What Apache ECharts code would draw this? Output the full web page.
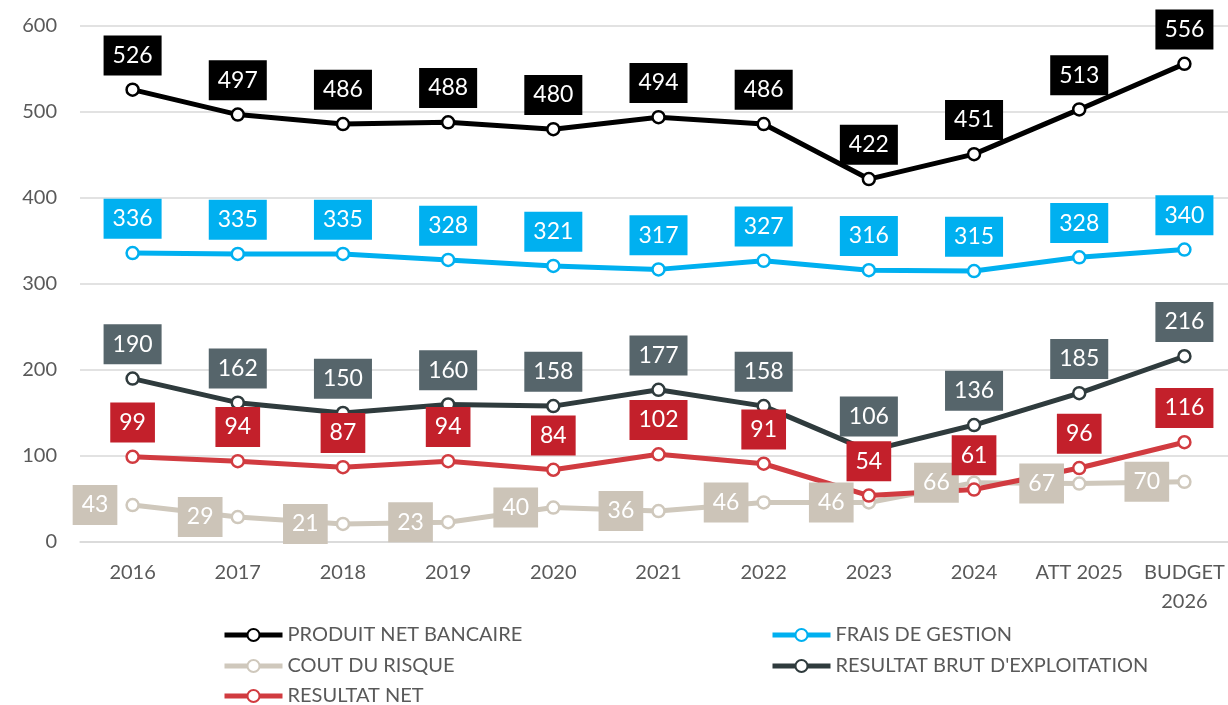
<!DOCTYPE html>
<html>
<head>
<meta charset="utf-8">
<script src="https://cdn.jsdelivr.net/npm/echarts@6/dist/echarts.min.js"></script>
<style>
  html, body { margin: 0; padding: 0; background: #fff; overflow: hidden; }
  /* a bit wider than the window: the last category runs past the right edge */
  #chart { width: 1240px; height: 705px; }
</style>
</head>
<body>
<div id="chart"></div>
<script>
// categories
const years = ['2016', '2017', '2018', '2019', '2020', '2021', '2022', '2023', '2024', 'ATT 2025', 'BUDGET\n2026']

// plotted values (read from point positions)
const pnb = [526, 497, 486, 488, 480, 494, 486, 422, 451, 503, 556]
const fraisGestion = [336, 335, 335, 328, 321, 317, 327, 316, 315, 331, 340]
const coutRisque = [43, 29, 21, 23, 40, 36, 46, 46, 69, 68, 70]
const rbe = [190, 162, 150, 160, 158, 177, 158, 106, 136, 173, 216]
const resultatNet = [99, 94, 87, 94, 84, 102, 91, 54, 61, 86, 116]

// values shown in the label boxes
const pnbLabels = [526, 497, 486, 488, 480, 494, 486, 422, 451, 513, 556]
const fraisGestionLabels = [336, 335, 335, 328, 321, 317, 327, 316, 315, 328, 340]
const coutRisqueLabels = [43, 29, 21, 23, 40, 36, 46, 46, 66, 67, 70]
const rbeLabels = [190, 162, 150, 160, 158, 177, 158, 106, 136, 185, 216]
const resultatNetLabels = [99, 94, 87, 94, 84, 102, 91, 54, 61, 96, 116]

const FONT = 'Lato, "Open Sans", sans-serif'

// build one line series
function makeSeries(name, data, labels, lineColor, boxColor, pos) {
  return {
    name: name,
    type: 'line',
    data: data,
    symbol: 'circle',
    symbolSize: 12,
    lineStyle: { width: 5, color: lineColor },
    itemStyle: { color: '#fff', borderColor: lineColor, borderWidth: 2.5 },
    label: {
      show: true,
      position: pos,
      distance: pos === 'left' ? 8 : 7,
      formatter: p => String(labels[p.dataIndex]),
      color: '#fff',
      fontFamily: FONT,
      fontSize: 23,
      lineHeight: 28,
      backgroundColor: boxColor,
      padding: [6, 9],
    },
    emphasis: { disabled: true },
  }
}

// one legend entry per slot (2 columns, 3 rows)
function legendItem(name, left, top) {
  return {
    data: [name],
    left: left,
    top: top,
    padding: 0,
    itemWidth: 58,
    itemHeight: 15,
    itemGap: 0,
    lineStyle: { width: 5 },
    textStyle: { color: '#595959', fontSize: 20, lineHeight: 20, fontFamily: FONT },
  }
}

const chart = echarts.init(document.getElementById('chart'))
chart.setOption({
  animation: false,
  textStyle: { fontFamily: FONT },
  grid: {
    left: 80,
    top: 26,
    width: 1157,
    height: 516,
  },
  xAxis: {
    type: 'category',
    data: years,
    axisLine: { lineStyle: { color: '#d9d9d9', width: 1.5 } },
    axisTick: { show: false },
    axisLabel: {
      color: '#595959',
      fontSize: 20,
      lineHeight: 29,
      margin: 16,
      fontFamily: FONT,
      interval: 0,
    },
  },
  yAxis: {
    type: 'value',
    min: 0,
    max: 600,
    interval: 100,
    axisLine: { show: false },
    axisTick: { show: false },
    splitLine: { lineStyle: { color: '#d9d9d9', width: 1.5 } },
    axisLabel: {
      color: '#595959',
      fontSize: 20,
      margin: 23,
      fontFamily: FONT,
    },
  },
  legend: [
    legendItem('PRODUIT NET BANCAIRE', 222, 625),
    legendItem('FRAIS DE GESTION', 770, 625),
    legendItem('COUT DU RISQUE', 222, 656),
    legendItem("RESULTAT BRUT D'EXPLOITATION", 770, 656),
    legendItem('RESULTAT NET', 222, 686),
  ],
  series: [
    makeSeries('COUT DU RISQUE', coutRisque, coutRisqueLabels, '#cfc8bc', '#ccc4b8', 'left'),
    makeSeries('RESULTAT NET', resultatNet, resultatNetLabels, '#d13b40', '#c3202b', 'top'),
    makeSeries("RESULTAT BRUT D'EXPLOITATION", rbe, rbeLabels, '#2f3b3d', '#56656b', 'top'),
    makeSeries('FRAIS DE GESTION', fraisGestion, fraisGestionLabels, '#00b0f0', '#00b0f0', 'top'),
    makeSeries('PRODUIT NET BANCAIRE', pnb, pnbLabels, '#000000', '#000000', 'top'),
  ],
})
</script>
</body>
</html>
